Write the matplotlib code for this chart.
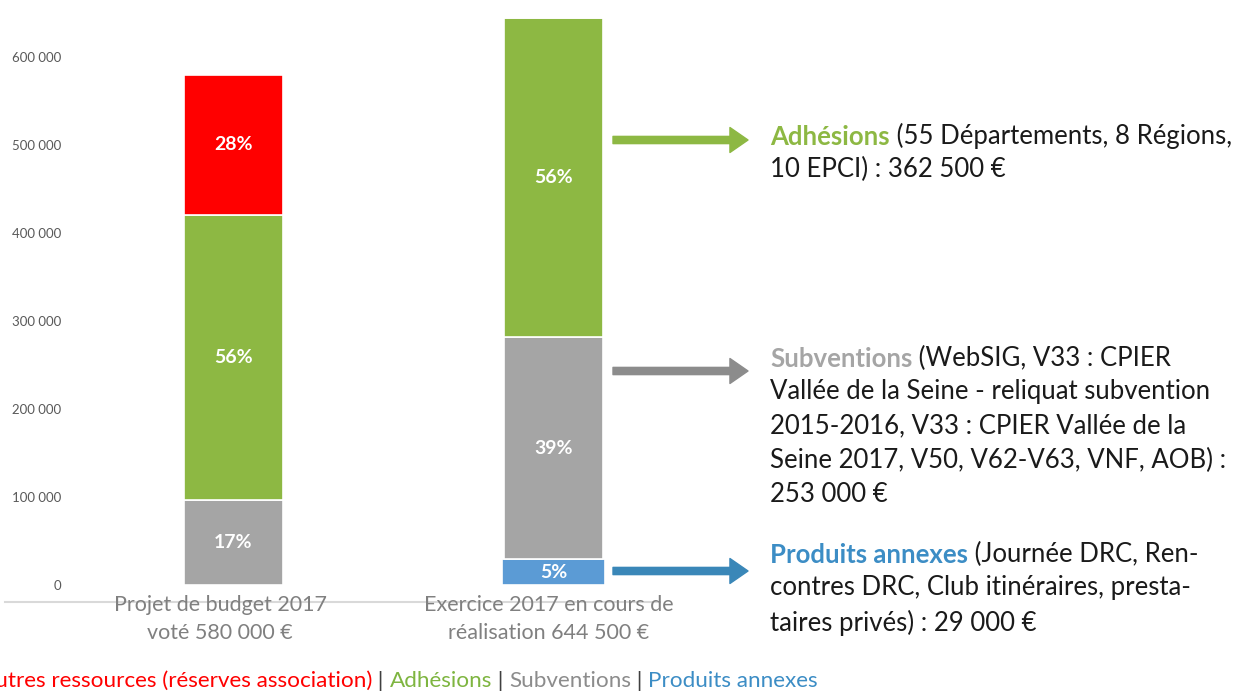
import matplotlib.pyplot as plt
import numpy as np

plt.rcParams['font.family'] = ['Lato', 'DejaVu Sans']

# data
categories = ['Projet de budget 2017\nvoté 580 000 €',
              'Exercice 2017 en cours de\nréalisation 644 500 €']
series_names = ['Produits annexes', 'Subventions', 'Adhésions', 'Autres ressources']
values = {
    'Produits annexes': [0, 29000],
    'Subventions': [97000, 253000],
    'Adhésions': [323000, 362500],
    'Autres ressources': [160000, 0],
}
pct_labels = {
    'Produits annexes': ['', '5%'],
    'Subventions': ['17%', '39%'],
    'Adhésions': ['56%', '56%'],
    'Autres ressources': ['28%', ''],
}
yticks = [0, 100000, 200000, 300000, 400000, 500000, 600000]

colors = {
    'Produits annexes': '#5B9BD5',
    'Subventions': '#A5A5A5',
    'Adhésions': '#8DB843',
    'Autres ressources': '#FF0000',
}

W, H = 1257, 691
fig = plt.figure(figsize=(W / 100, H / 100), dpi=100)
ax = fig.add_axes([100 / W, 1 - 585 / H, 600 / W, (585 - 13) / H])

x = np.arange(len(categories))
bottom = np.zeros(len(categories))
for name in series_names:
    v = np.array(values[name], dtype=float)
    wd = 0.31 if name != 'Produits annexes' else 0.32
    ax.bar(x, v, bottom=bottom, width=wd, color=colors[name],
           edgecolor='white', linewidth=1.2)
    for i in range(len(x)):
        if v[i] > 0:
            ax.text(x[i], bottom[i] + v[i] / 2, pct_labels[name][i],
                    ha='center', va='center', color='white',
                    fontsize=14, fontweight='bold')
    bottom += v

ax.set_xlim(-133.5 / 320, -133.5 / 320 + 600 / 320)
ax.set_ylim(0, 650000)
ax.set_yticks(yticks)
ax.set_yticklabels(['{:,}'.format(t).replace(',', ' ') for t in yticks],
                   fontsize=9.5, color='#595959')
ax.tick_params(axis='y', length=0, pad=28)
ax.set_xticks([])
for s in ax.spines.values():
    s.set_visible(False)

# grey line under the chart
fig.add_artist(plt.Line2D([5 / W, 660 / W], [1 - 602 / H, 1 - 602 / H],
                          color='#D9D9D9', lw=1.5, zorder=0))

# category labels
for cx, lab in zip([220, 549], categories):
    fig.text(cx / W, 1 - 619 / H, lab, ha='center', va='center',
             fontsize=15.5, color='#808080', linespacing=1.55)

# annotations with arrows
notes = [
    ('Adhésions', ' (55 Départements, 8 Régions,', '10 EPCI) : 362 500 €',
     '#8DB843', '#8DB843', 140, 137),
    ('Subventions', ' (WebSIG, V33 : CPIER',
     'Vallée de la Seine - reliquat subvention\n2015-2016, V33 : CPIER Vallée de la\n'
     'Seine 2017, V50, V62-V63, VNF, AOB) :\n253 000 €',
     '#A5A5A5', '#8C8C8C', 371, 359),
    ('Produits annexes', ' (Journée DRC, Ren-',
     'contres DRC, Club itinéraires, presta-\ntaires privés) : 29 000 €',
     '#3C8DC5', '#3A87B8', 571, 555),
]
for head, rest1, rest, hcol, acol, ay, ty in notes:
    ax.annotate('', xy=(748, H - ay), xytext=(613, H - ay),
                xycoords='figure pixels', textcoords='figure pixels',
                annotation_clip=False,
                arrowprops=dict(arrowstyle='simple,head_width=0.9,head_length=0.65,tail_width=0.26',
                                color=acol, shrinkA=0, shrinkB=0,
                                mutation_scale=20))
    t = fig.text(770 / W, 1 - ty / H, head, ha='left', va='center',
                 fontsize=18.5, fontweight='bold', color=hcol)
    ax.annotate(rest1, xy=(1, 0), xycoords=t, ha='left', va='bottom',
                fontsize=18.5, color='#1A1A1A', annotation_clip=False)
    fig.text(770 / W, 1 - (ty + 20) / H, rest, ha='left', va='top',
             fontsize=18.5, color='#1A1A1A', linespacing=1.47)

# bottom colour key
parts = [('Autres ressources (réserves association)', '#FF0000'),
         (' | ', '#404040'), ('Adhésions', '#7EB540'), (' | ', '#404040'),
         ('Subventions', '#8C8C8C'), (' | ', '#404040'),
         ('Produits annexes', '#3C8DC5')]
prev = fig.text(-20 / W, 1 - 681 / H, parts[0][0], ha='left', va='center',
                fontsize=16.2, color=parts[0][1])
for txt, col in parts[1:]:
    prev = ax.annotate(txt, xy=(1, 0), xycoords=prev, ha='left', va='bottom',
                       fontsize=16.2, color=col, annotation_clip=False)

fig.savefig('out.png', dpi=100)
